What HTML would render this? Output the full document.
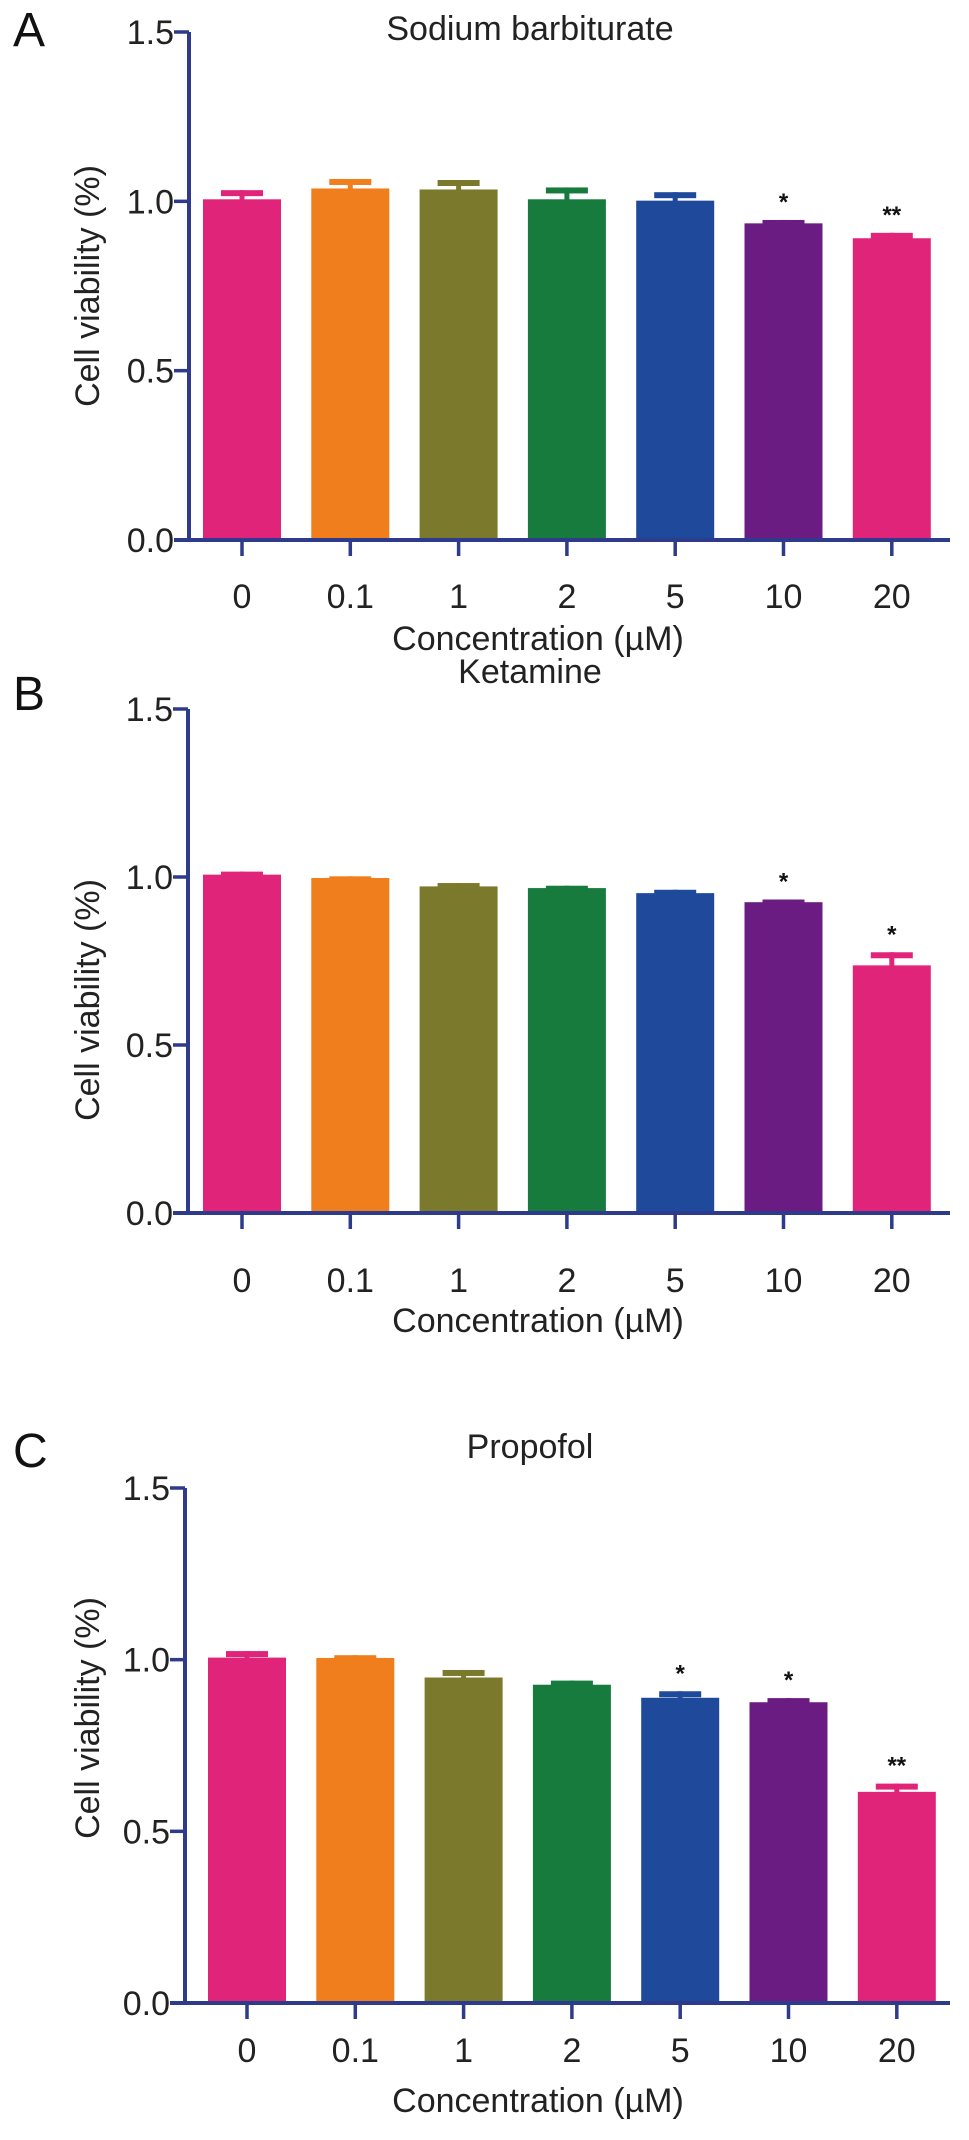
<!DOCTYPE html>
<html><head><meta charset="utf-8"><title>Cell viability</title>
<style>
html,body{margin:0;padding:0;background:#fff;}
svg{display:block;font-family:"Liberation Sans",Arial,sans-serif;}
</style></head>
<body>
<svg id="fig" width="969" height="2140" viewBox="0 0 969 2140" xmlns="http://www.w3.org/2000/svg"></svg>
<script>
const categories = ["0","0.1","1","2","5","10","20"];
const yTicks = [0, 0.5, 1.0, 1.5];
const yTickLabels = ["0.0","0.5","1.0","1.5"];
const colors = ["#e0247a","#f07e1c","#7b7a2c","#177b3e","#1f4a9b","#6b1c82","#e0247a"];

const titles = ["Sodium barbiturate","Ketamine","Propofol"];
const letters = ["A","B","C"];

const valuesA = [1.006, 1.038, 1.035, 1.006, 1.002, 0.935, 0.891];
const errorsA = [0.027, 0.028, 0.028, 0.035, 0.025, 0.010, 0.016];
const starsA  = ["", "", "", "", "", "*", "**"];

const valuesB = [1.007, 0.997, 0.972, 0.967, 0.952, 0.925, 0.737];
const errorsB = [0.009, 0.005, 0.010, 0.007, 0.010, 0.008, 0.039];
const starsB  = ["", "", "", "", "", "*", "*"];

const valuesC = [1.006, 1.005, 0.948, 0.927, 0.889, 0.876, 0.615];
const errorsC = [0.019, 0.008, 0.022, 0.012, 0.019, 0.012, 0.024];
const starsC  = ["", "", "", "", "*", "*", "**"];

const allValues = [valuesA, valuesB, valuesC];
const allErrors = [errorsA, errorsB, errorsC];
const allStars = [starsA, starsB, starsC];

// layout (not data)
const panels = [
  {top:32, base:540, axisX:189, x0:242, xEnd:950, titleY:40, letterY:46, yTitleY:286, xLabelY:608, xTitleY:650},
  {top:709, base:1213, axisX:188, x0:242, xEnd:950, titleY:683, letterY:710, yTitleY:1000, xLabelY:1292, xTitleY:1332},
  {top:1488, base:2003, axisX:185, x0:247, xEnd:950, titleY:1458, letterY:1467, yTitleY:1718, xLabelY:2062, xTitleY:2112}
];
const step = 108.3, barW = 78, axisCol = "#2e3a8c", fs = 34;
const NS = "http://www.w3.org/2000/svg";
const svg = document.getElementById("fig");
function mk(tag, attrs, parent){
  const e = document.createElementNS(NS, tag);
  for (const k in attrs) e.setAttribute(k, attrs[k]);
  (parent||svg).appendChild(e);
  return e;
}

panels.forEach((p, pi) => {
  const g = mk("g", {});
  
  
  const yScale = v => p.base - (v / 1.5) * (p.base - p.top);
  const xScale = i => p.x0 + i * step;

  const L = mk("text", {x:13, y:p.letterY, "font-size":48, fill:"#111"}, g);
  L.textContent = letters[pi];
  
  

  const T = mk("text", {x:530, y:p.titleY, "font-size":fs, fill:"#222", "text-anchor":"middle"}, g);
  T.textContent = titles[pi];
  
  

  const vals = allValues[pi], errs = allErrors[pi], stars = allStars[pi];
  vals.forEach((v, i) => {
    const cx = xScale(i), yt = yScale(v), ye = yScale(v + errs[i]);
    const bar = mk("rect", {x:cx - barW/2, y:yt, width:barW, height:p.base - yt, fill:colors[i]}, g);
    
    
    const stem = mk("rect", {x:cx - 2.5, y:ye, width:5, height:yt - ye + 1, fill:colors[i]}, g);
    
    
    const cap = mk("rect", {x:cx - 21, y:ye, width:42, height:6, fill:colors[i]}, g);
    
    
    if (stars[i]) {
      const s = mk("text", {x:cx, y:ye - 10, "font-size":24, "font-weight":"bold", fill:"#111", "text-anchor":"middle"}, g);
      s.textContent = stars[i];
      
      
    }
    const tk = mk("line", {x1:cx, x2:cx, y1:p.base, y2:p.base + 16, stroke:axisCol, "stroke-width":3.5}, g);
    
    
    const tl = mk("text", {x:cx, y:p.xLabelY, "font-size":fs, fill:"#222", "text-anchor":"middle"}, g);
    tl.textContent = categories[i];
    
    
  });

  const ya = mk("line", {x1:p.axisX, x2:p.axisX, y1:p.top, y2:p.base, stroke:axisCol, "stroke-width":4}, g);
  
  
  const xa = mk("line", {x1:p.axisX - 15, x2:p.xEnd, y1:p.base, y2:p.base, stroke:axisCol, "stroke-width":4}, g);
  
  
  yTicks.forEach((t, k) => {
    const y = yScale(t);
    const tk = mk("line", {x1:p.axisX - 15, x2:p.axisX, y1:y, y2:y, stroke:axisCol, "stroke-width":3.5}, g);
    
    
    const tl = mk("text", {x:p.axisX - 15, y:y + 12, "font-size":fs, fill:"#222", "text-anchor":"end"}, g);
    tl.textContent = yTickLabels[k];
    
    
  });

  const yt = mk("text", {x:0, y:0, "font-size":fs, fill:"#222", "text-anchor":"middle", transform:"translate(99," + p.yTitleY + ") rotate(-90)"}, g);
  yt.textContent = "Cell viability (%)";
  
  

  const xt = mk("text", {x:538, y:p.xTitleY, "font-size":fs, fill:"#222", "text-anchor":"middle"}, g);
  xt.textContent = "Concentration (\u00b5M)";
  
  
});
</script>
</body></html>
